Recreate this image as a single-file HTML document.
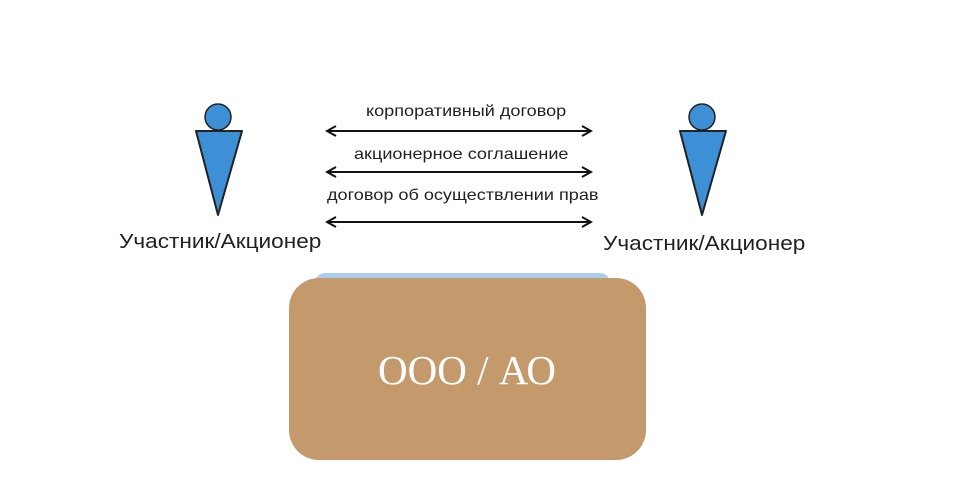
<!DOCTYPE html>
<html><head><meta charset="utf-8"><style>
body{margin:0;width:957px;height:485px;background:#fff;overflow:hidden;position:relative;font-family:"Liberation Sans",sans-serif}
.t{position:absolute;color:#222;white-space:nowrap;transform-origin:0 0}
</style></head><body>
<svg width="957" height="485" style="position:absolute;left:0;top:0">
<defs><marker id="a" markerWidth="12" markerHeight="12" refX="10" refY="6" orient="auto-start-reverse" markerUnits="userSpaceOnUse"><path d="M1,1 L10,6 L1,11" fill="none" stroke="#111" stroke-width="2"/></marker></defs>
<g id="p">
<circle cx="218" cy="117" r="13" fill="#3d8fd6" stroke="#222" stroke-width="1.5"/>
<path d="M196,131 L242,131 L218,215 Z" fill="#3d8fd6" stroke="#222" stroke-width="2" stroke-linejoin="round"/>
</g>
<use href="#p" x="484"/>
<g stroke="#111" stroke-width="2" marker-start="url(#a)" marker-end="url(#a)">
<line x1="327" y1="131" x2="591" y2="131"/>
<line x1="327" y1="172" x2="591" y2="172"/>
<line x1="327" y1="222" x2="591" y2="222"/>
</g>
<rect x="315" y="273" width="295" height="20" rx="10" fill="#a9cdea"/>
<rect x="289" y="278" width="357" height="182" rx="30" fill="#c49a6c"/>
<text x="467" y="384" text-anchor="middle" font-family="Liberation Serif,serif" font-size="41" fill="#fff">ООО / АО</text>
</svg>
<div class="t" style="left:366px;top:103px;font-size:16px;transform:scaleX(1.13)">корпоративный договор</div>
<div class="t" style="left:354px;top:146px;font-size:16px;transform:scaleX(1.13)">акционерное соглашение</div>
<div class="t" style="left:327px;top:187px;font-size:16px;transform:scaleX(1.13)">договор об осуществлении прав</div>
<div class="t" style="left:119px;top:231px;font-size:20px;transform:scaleX(1.13)">Участник/Акционер</div>
<div class="t" style="left:603px;top:233px;font-size:20px;transform:scaleX(1.13)">Участник/Акционер</div>
</body></html>
